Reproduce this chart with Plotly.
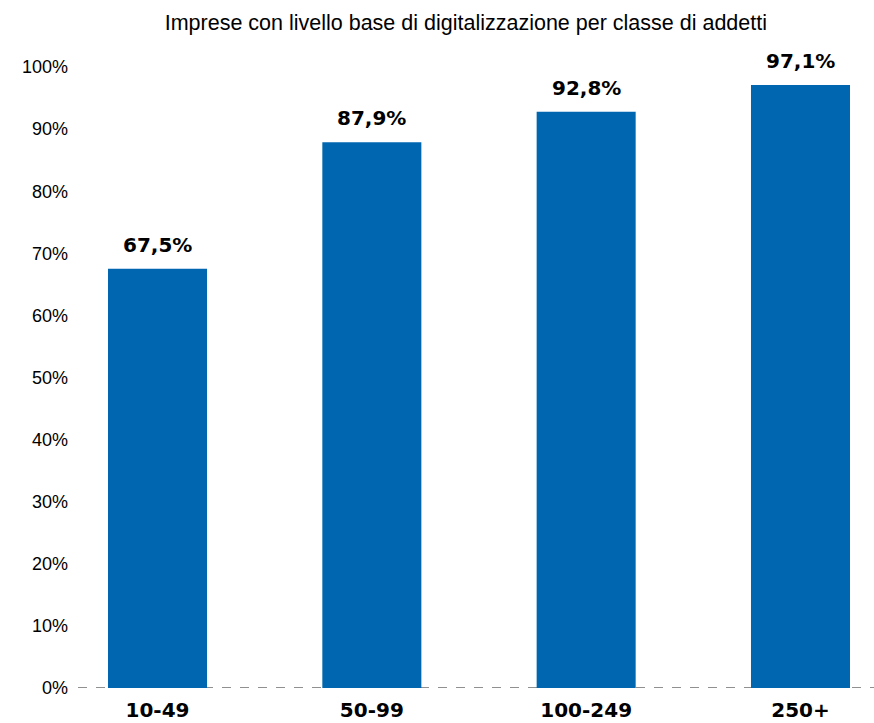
import plotly.graph_objects as go

classi = ["10-49", "50-99", "100-249", "250+"]
quote = [67.5, 87.9, 92.8, 97.1]
etichette = ["67,5%", "87,9%", "92,8%", "97,1%"]
tick_vals = [0, 10, 20, 30, 40, 50, 60, 70, 80, 90, 100]
tick_text = [f"{v}%" for v in tick_vals]

fig = go.Figure(
    go.Bar(
        x=classi,
        y=quote,
        width=0.462,
        marker=dict(color="#0066B0", line=dict(width=0)),
        cliponaxis=False,
        hovertemplate="%{x}: %{y:.1f}%<extra></extra>",
    )
)

# value labels above each bar
for c, v, t in zip(classi, quote, etichette):
    fig.add_annotation(
        x=c, y=v, text=t, showarrow=False,
        xanchor="center", yanchor="bottom", yshift=10,
        font=dict(family="DejaVu Sans, sans-serif", size=20, color="#000000", weight="bold"),
    )

# dashed baseline at 0%
fig.add_shape(
    type="line", xref="paper", yref="y",
    x0=0, x1=1.0, y0=0, y1=0,
    line=dict(color="#222222", width=1.2, dash="dash"),
    layer="below",
)

fig.update_layout(
    width=874, height=723,
    margin=dict(l=78, r=0, t=67, b=35),
    paper_bgcolor="white", plot_bgcolor="white",
    showlegend=False,
    title=dict(
        text="Imprese con livello base di digitalizzazione per classe di addetti",
        x=0.533, xanchor="center", y=0.969, yanchor="middle",
        font=dict(family="Liberation Sans, Arial, sans-serif", size=21.5, color="#000000"),
    ),
    xaxis=dict(
        range=[-0.371, 3.343],
        showgrid=False, showline=False, zeroline=False, ticks="",
        tickfont=dict(family="DejaVu Sans, sans-serif", size=20, color="#000000", weight="bold"),
        ticklabelstandoff=8,
    ),
    yaxis=dict(
        range=[0, 100],
        tickvals=tick_vals, ticktext=tick_text,
        showgrid=False, showline=False, zeroline=False, ticks="",
        tickfont=dict(family="Liberation Sans, Arial, sans-serif", size=18, color="#000000"),
        ticklabelstandoff=9,
    ),
)

fig.write_html("out.html")
